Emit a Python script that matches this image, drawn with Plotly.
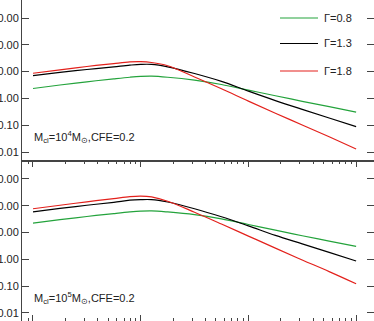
import plotly.graph_objects as go
from plotly.subplots import make_subplots

# radius-like x values (log spaced)
x_vals = [0.1, 0.178, 0.316, 0.562, 0.794, 1.0, 1.26, 1.78, 3.16, 5.62, 10, 17.8, 31.6, 56.2, 100]

# top panel: M_cl = 1e4
top_g08 = [2.34, 3.16, 4.17, 5.37, 6.17, 6.61, 6.76, 6.17, 4.79, 3.31, 2.04, 1.26, 0.78, 0.49, 0.31]
top_g13 = [7.1, 9.3, 12.0, 15.1, 17.4, 18.6, 18.6, 15.1, 8.5, 4.3, 1.86, 0.83, 0.39, 0.186, 0.088]
top_g18 = [8.7, 11.7, 15.5, 20.0, 22.9, 23.4, 21.9, 16.6, 6.3, 2.29, 0.79, 0.28, 0.102, 0.037, 0.013]

# bottom panel: M_cl = 1e5
bot_g08 = [22.4, 30.2, 39.8, 51.3, 58.9, 63.1, 64.6, 58.9, 46.8, 32.4, 20.0, 12.3, 7.6, 4.8, 3.05]
bot_g13 = [58.9, 79.4, 104.7, 135, 162, 170, 170, 138, 77.6, 38.9, 17.8, 7.9, 3.8, 1.82, 0.87]
bot_g18 = [77.6, 104.7, 141, 186, 219, 229, 214, 148, 57.5, 20.9, 7.4, 2.63, 0.95, 0.35, 0.123]

gammas = ["0.8", "1.3", "1.8"]
colors = ["#24a33c", "#000000", "#e3211c"]
ytick_vals = [0.01, 0.1, 1, 10, 100, 1000]
ytick_text = ["0.01", "0.10", "1.00", "10.00", "100.00", "1000.00"]

W, H = 374, 321
ML = 22
FONT = "Liberation Sans, Arial, sans-serif"
AX = "#444444"


def px_x(p):
    return (p - ML) / (W - ML)


def px_y(p):
    return 1 - p / H


fig = make_subplots(rows=2, cols=1, shared_xaxes=True, vertical_spacing=0)

panels = [(top_g08, top_g13, top_g18), (bot_g08, bot_g13, bot_g18)]
for row, series in enumerate(panels, start=1):
    for ys, col in zip(series, colors):
        fig.add_trace(
            go.Scatter(x=x_vals, y=ys, mode="lines", line=dict(color=col, width=1.2, shape="spline"),
                       showlegend=False, hoverinfo="skip"),
            row=row, col=1,
        )

yaxis_common = dict(
    type="log", tickvals=ytick_vals, ticktext=ytick_text, ticks="inside", ticklen=7,
    tickcolor=AX, showline=True, linecolor=AX, linewidth=1, mirror="ticks",
    showgrid=False, zeroline=False, automargin=False,
    tickfont=dict(family=FONT, size=11, color="#222"),
)
fig.update_yaxes(range=[-2.317, 3.672], row=1, col=1, **yaxis_common)
fig.update_yaxes(range=[-2.30, 3.69], row=2, col=1, **yaxis_common)

fig.update_xaxes(type="log", range=[-1.102, 2.166], showgrid=False, zeroline=False,
                 showline=True, linecolor=AX, linewidth=1, mirror=True, showticklabels=False,
                 automargin=False)
fig.update_xaxes(ticks="", row=1, col=1)
fig.update_xaxes(ticks="inside", ticklen=6, tickcolor=AX, dtick=1, mirror="allticks",
                 minor=dict(ticks="inside", ticklen=3, tickcolor=AX, dtick="D1"), row=2, col=1)

label = "M<sub>cl</sub>=10<sup>%d</sup>M<sub>⊙</sub>,CFE=0.2"
for ypx, p in [(137, 4), (298, 5)]:
    fig.add_annotation(x=px_x(32), y=px_y(ypx), xref="paper", yref="paper", text=label % p,
                       showarrow=False, xanchor="left", yanchor="middle",
                       font=dict(family=FONT, size=11, color="#222"))

# hand-drawn legend in the top panel
for g, col, ypx in zip(gammas, colors, [18, 43.5, 71]):
    fig.add_shape(type="line", xref="paper", yref="paper", x0=px_x(280), x1=px_x(318),
                  y0=px_y(ypx), y1=px_y(ypx), line=dict(color=col, width=1.2))
    fig.add_annotation(x=px_x(322), y=px_y(ypx), xref="paper", yref="paper", text="Γ=" + g,
                       showarrow=False, xanchor="left", yanchor="middle",
                       font=dict(family=FONT, size=11, color="#222"))

fig.update_layout(
    width=W, height=H, margin=dict(l=ML, r=0, t=0, b=0, autoexpand=False),
    plot_bgcolor="white", paper_bgcolor="white", showlegend=False,
)
# drop the browser's default 8px body margin so the figure sits at the page origin
fig.write_html("out.html", config={"displayModeBar": False},
               post_script="document.body.style.margin='0';")
